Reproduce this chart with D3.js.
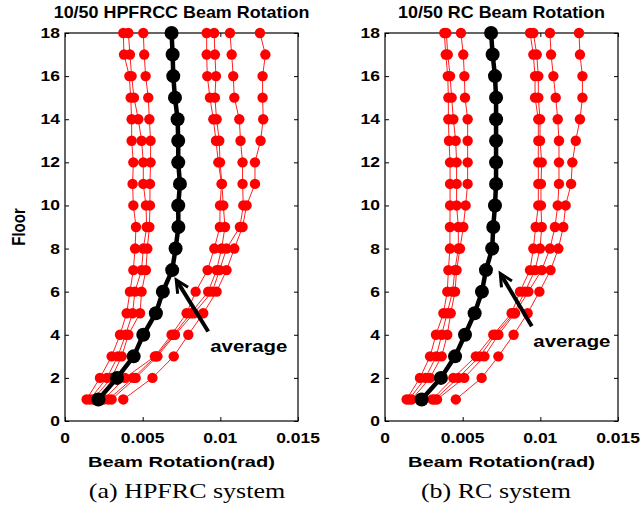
<!DOCTYPE html>
<html>
<head>
<meta charset="utf-8">
<script src="https://cdn.jsdelivr.net/npm/d3@7"></script>
<style>
  html, body { margin: 0; padding: 0; background: #ffffff; }
  svg { display: block; }
</style>
</head>
<body>
<div id="chart"></div>
<script>
// ---------------- DATA (beam rotation in rad, floors 1..18) ----------------
const floors = [1,2,3,4,5,6,7,8,9,10,11,12,13,14,15,16,17,18];
const yTicks = [0,2,4,6,8,10,12,14,16,18];
const xTicks = [0, 0.005, 0.01, 0.015];
const xTickLabels = ["0", "0.005", "0.01", "0.015"];

// HPFRCC system: 7 ground motions + average
const hpfrccGM1 = [0.00139,0.00225,0.00300,0.00354,0.00397,0.00418,0.00440,0.00451,0.00457,0.00440,0.00435,0.00440,0.00429,0.00429,0.00423,0.00414,0.00380,0.00375];
const hpfrccGM2 = [0.00160,0.00270,0.00340,0.00390,0.00435,0.00450,0.00493,0.00504,0.00526,0.00521,0.00504,0.00504,0.00493,0.00472,0.00444,0.00429,0.00418,0.00408];
const hpfrccGM3 = [0.00180,0.00300,0.00365,0.00408,0.00483,0.00493,0.00521,0.00530,0.00543,0.00547,0.00547,0.00551,0.00551,0.00543,0.00536,0.00519,0.00510,0.00504];
const hpfrccGM4 = [0.00250,0.00386,0.00579,0.00686,0.00783,0.00841,0.00918,0.00961,0.00997,0.00998,0.01008,0.00987,0.00972,0.00955,0.00933,0.00916,0.00912,0.00912];
const hpfrccGM5 = [0.00279,0.00440,0.00585,0.00700,0.00810,0.00922,0.00976,0.01008,0.01030,0.01019,0.01010,0.00998,0.00993,0.00976,0.00965,0.00972,0.00965,0.00960];
const hpfrccGM6 = [0.00300,0.00455,0.00595,0.00708,0.00830,0.00948,0.00995,0.01040,0.01126,0.01148,0.01143,0.01143,0.01130,0.01122,0.01090,0.01083,0.01073,0.01062];
const hpfrccGM7 = [0.00375,0.00563,0.00700,0.00794,0.00890,0.00976,0.01040,0.01090,0.01143,0.01169,0.01223,0.01223,0.01259,0.01276,0.01272,0.01272,0.01290,0.01255];
const hpfrccAvg = [0.00215,0.00335,0.00442,0.00504,0.00585,0.00630,0.00690,0.00712,0.00730,0.00729,0.00740,0.00729,0.00729,0.00725,0.00708,0.00697,0.00693,0.00686];

// RC system: 7 ground motions + average
const rcGM1 = [0.00139,0.00225,0.00290,0.00328,0.00376,0.00401,0.00408,0.00418,0.00418,0.00419,0.00419,0.00419,0.00412,0.00408,0.00408,0.00404,0.00391,0.00382];
const rcGM2 = [0.00155,0.00260,0.00330,0.00365,0.00400,0.00435,0.00450,0.00472,0.00472,0.00461,0.00461,0.00461,0.00455,0.00440,0.00429,0.00419,0.00404,0.00395];
const rcGM3 = [0.00172,0.00290,0.00365,0.00401,0.00423,0.00451,0.00461,0.00483,0.00504,0.00519,0.00532,0.00532,0.00532,0.00532,0.00515,0.00511,0.00504,0.00489];
const rcGM4 = [0.00305,0.00440,0.00585,0.00697,0.00815,0.00869,0.00933,0.00955,0.00970,0.00987,0.00987,0.00987,0.00987,0.00987,0.00966,0.00966,0.00955,0.00934];
const rcGM5 = [0.00320,0.00472,0.00610,0.00710,0.00830,0.00901,0.00966,0.00998,0.01009,0.01004,0.01004,0.01009,0.00998,0.00998,0.00987,0.00987,0.00977,0.00955];
const rcGM6 = [0.00335,0.00510,0.00640,0.00730,0.00837,0.00923,0.01009,0.01062,0.01094,0.01112,0.01120,0.01120,0.01120,0.01112,0.01099,0.01084,0.01069,0.01062];
const rcGM7 = [0.00456,0.00622,0.00730,0.00828,0.00918,0.00994,0.01066,0.01116,0.01148,0.01163,0.01198,0.01206,0.01228,0.01255,0.01271,0.01271,0.01255,0.01249];
const rcAvg = [0.00236,0.00360,0.00451,0.00515,0.00577,0.00624,0.00650,0.00690,0.00697,0.00708,0.00715,0.00715,0.00715,0.00715,0.00715,0.00708,0.00693,0.00683];

// ---------------- LAYOUT ----------------
const W = 643, H = 512;
const plotTop = 33, plotBottom = 421;
const SANS = "'Liberation Sans', Arial, Helvetica, sans-serif";
const SERIF = "'Liberation Serif', 'Times New Roman', serif";

const panels = [
  { title: "10/50 HPFRCC Beam Rotation", caption: "(a) HPFRC system",
    gms: [hpfrccGM1,hpfrccGM2,hpfrccGM3,hpfrccGM4,hpfrccGM5,hpfrccGM6,hpfrccGM7], avg: hpfrccAvg,
    left: 65, right: 298, showYLabel: true, captionX: 187,
    arrowTail: [0.00922, 4.15], arrowTip: [0.00716, 6.55], labelAt: [0.00935, 3.2] },
  { title: "10/50 RC Beam Rotation", caption: "(b) RC system",
    gms: [rcGM1,rcGM2,rcGM3,rcGM4,rcGM5,rcGM6,rcGM7], avg: rcAvg,
    left: 385, right: 618, showYLabel: false, captionX: 496,
    arrowTail: [0.00945, 4.4], arrowTip: [0.00742, 6.85], labelAt: [0.00955, 3.45] }
];

const svg = d3.select("#chart").append("svg")
  .attr("width", W).attr("height", H)
  .attr("viewBox", `0 0 ${W} ${H}`);
svg.append("rect").attr("width", W).attr("height", H).attr("fill", "#fff");

function sText(g, x, y, txt, size, sx, anchor, opts = {}) {
  const t = g.append("text")
    .attr("transform", `translate(${x},${y}) scale(${sx},1)`)
    .attr("text-anchor", anchor)
    .attr("font-family", opts.family || SANS)
    .attr("font-weight", opts.weight || "bold")
    .attr("font-size", size)
    .attr("fill", "#000")
    .text(txt);
  if (opts.dy) t.attr("dy", opts.dy);
  return t;
}

panels.forEach(p => {
  const x = d3.scaleLinear().domain([0, 0.015]).range([p.left, p.right]);
  const y = d3.scaleLinear().domain([0, 18]).range([plotBottom, plotTop]);
  const g = svg.append("g");
  const cx = (p.left + p.right) / 2;

  // frame
  g.append("rect").attr("x", p.left).attr("y", plotTop)
    .attr("width", p.right - p.left).attr("height", plotBottom - plotTop)
    .attr("fill", "none").attr("stroke", "#000").attr("stroke-width", 1.2);

  // axes with inward ticks
  const tl = 4;
  const axB = d3.axisBottom(x).tickValues(xTicks).tickSize(-tl).tickFormat("");
  const axT = d3.axisTop(x).tickValues(xTicks).tickSize(-tl).tickFormat("");
  const axL = d3.axisLeft(y).tickValues(yTicks).tickSize(-tl).tickFormat("");
  const axR = d3.axisRight(y).tickValues(yTicks).tickSize(-tl).tickFormat("");
  [[axB, `translate(0,${plotBottom})`], [axT, `translate(0,${plotTop})`],
   [axL, `translate(${p.left},0)`], [axR, `translate(${p.right},0)`]].forEach(([ax, tr]) => {
    const a = g.append("g").attr("transform", tr).call(ax);
    a.select(".domain").remove();
    a.selectAll("line").attr("stroke", "#000").attr("stroke-width", 1);
  });

  // tick labels
  xTicks.forEach((v, i) => sText(g, x(v), 443, xTickLabels[i], 14, 1.25, "middle"));
  yTicks.forEach(v => sText(g, p.left - 5, y(v), String(v), 14, 1.25, "end", { dy: "0.36em" }));

  // titles & labels
  sText(g, cx, 18, p.title, 16, 1.12, "middle");
  sText(g, cx, 467, "Beam Rotation(rad)", 15.5, 1.3, "middle");
  sText(g, p.captionX, 498, p.caption, 20, 1.3, "middle", { family: SERIF, weight: "normal" });
  if (p.showYLabel) {
    g.append("text")
      .attr("transform", `translate(25,${(plotTop + plotBottom) / 2}) rotate(-90) scale(1,1.25)`)
      .attr("text-anchor", "middle")
      .attr("font-family", SANS).attr("font-weight", "bold").attr("font-size", 15)
      .text("Floor");
  }

  // ground-motion series
  const line = d3.line().x(d => x(d[0])).y(d => y(d[1]));
  p.gms.forEach(s => {
    const pts = s.map((v, i) => [v, floors[i]]);
    g.append("path").datum(pts).attr("d", line)
      .attr("fill", "none").attr("stroke", "#ff2020").attr("stroke-width", 1);
  });
  p.gms.forEach(s => {
    g.append("g").selectAll("circle").data(s.map((v, i) => [v, floors[i]])).join("circle")
      .attr("cx", d => x(d[0])).attr("cy", d => y(d[1])).attr("r", 5.2)
      .attr("fill", "#ff0000");
  });

  // average
  const apts = p.avg.map((v, i) => [v, floors[i]]);
  g.append("path").datum(apts).attr("d", line)
    .attr("fill", "none").attr("stroke", "#000").attr("stroke-width", 4.5);
  g.append("g").selectAll("circle").data(apts).join("circle")
    .attr("cx", d => x(d[0])).attr("cy", d => y(d[1])).attr("r", 7)
    .attr("fill", "#000");

  // annotation arrow
  const tx = x(p.arrowTail[0]), ty = y(p.arrowTail[1]);
  const hx = x(p.arrowTip[0]), hy = y(p.arrowTip[1]);
  const ang = Math.atan2(hy - ty, hx - tx);
  const hl = 14, ha = 0.45;
  g.append("line").attr("x1", tx).attr("y1", ty)
    .attr("x2", hx - Math.cos(ang) * 3).attr("y2", hy - Math.sin(ang) * 3)
    .attr("stroke", "#000").attr("stroke-width", 4);
  const w1 = [hx - hl * Math.cos(ang - ha), hy - hl * Math.sin(ang - ha)];
  const w2 = [hx - hl * Math.cos(ang + ha), hy - hl * Math.sin(ang + ha)];
  g.append("path").attr("d", `M${w1[0]},${w1[1]} L${hx},${hy} L${w2[0]},${w2[1]}`)
    .attr("fill", "none").attr("stroke", "#000").attr("stroke-width", 3)
    .attr("stroke-linejoin", "miter");
  sText(g, x(p.labelAt[0]), y(p.labelAt[1]), "average", 17, 1.2, "start");
});
</script>
</body>
</html>
